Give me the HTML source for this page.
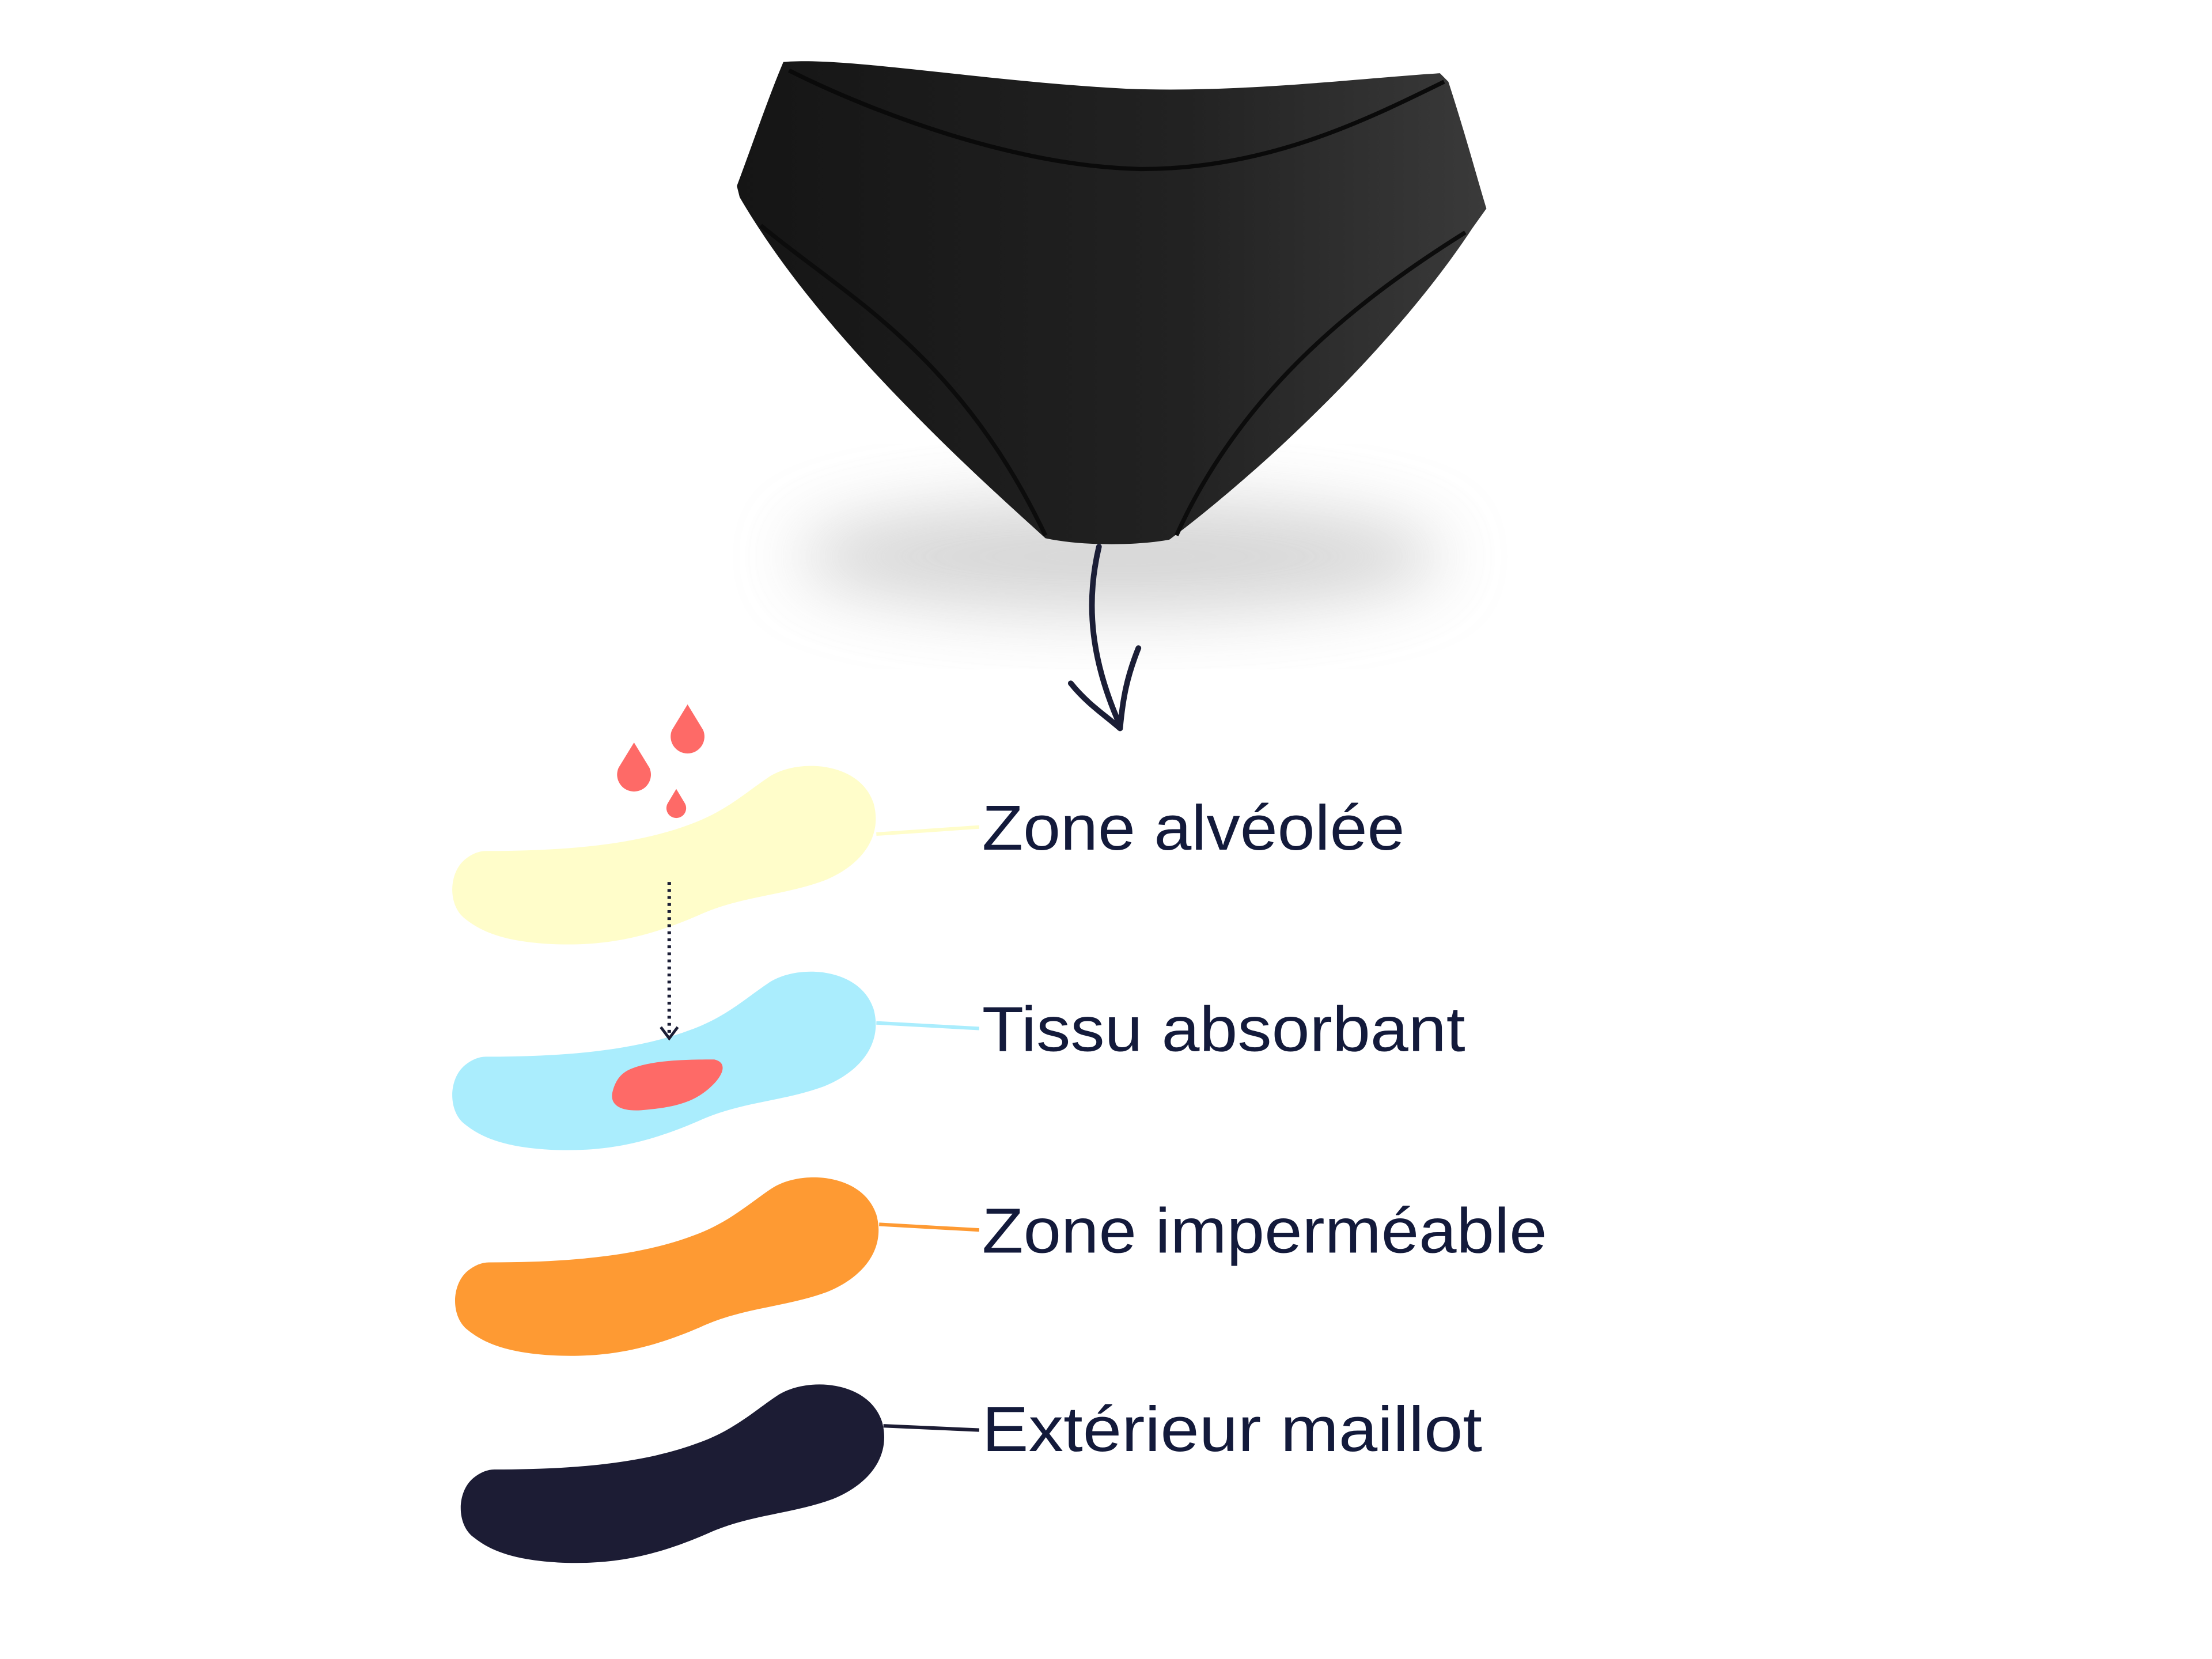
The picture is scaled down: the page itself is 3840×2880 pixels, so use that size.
<!DOCTYPE html>
<html><head><meta charset="utf-8"><style>
html,body{margin:0;padding:0;background:#fff}
svg{display:block}
</style></head><body>
<svg width="3840" height="2880" viewBox="0 0 1570 1177.5" xmlns="http://www.w3.org/2000/svg">
<defs>
<filter id="bl" x="-50%" y="-50%" width="200%" height="200%"><feGaussianBlur stdDeviation="24"/></filter>
<linearGradient id="pg" x1="0" y1="0" x2="1" y2="0"><stop offset="0" stop-color="#151515"/><stop offset="0.6" stop-color="#222"/><stop offset="1" stop-color="#3a3a3a"/></linearGradient>
<path id="pad" d="M345,604 C400,604 450,600 490,585 C515,576 530,562 545,552 C565,538 610,540 620,570 C627,595 610,615 585,625 C555,636 525,636 495,650 C460,665 430,672 390,670 C355,668 340,660 330,652 C318,643 318,620 330,610 C335,606 340,604 345,604 Z"/>
</defs>
<rect width="1570" height="1177.5" fill="#fff"/>
<ellipse cx="795" cy="395" rx="230" ry="40" fill="#c4c4c4" filter="url(#bl)" opacity="0.7"/>
<path d="M556,44 C600,40 700,58 800,63 C880,66 960,56 1022,52 L1028,58 C1040,95 1048,125 1055,148 L1045,162 C1010,215 960,270 900,325 C870,352 845,372 830,383 C810,387 770,388 742,382 C720,362 690,335 660,305 C610,255 560,200 525,140 L523,132 C535,100 545,70 556,44 Z" fill="url(#pg)"/>
<path d="M560,50 C620,80 720,118 810,120 C900,120 970,85 1025,58" fill="none" stroke="#0a0a0a" stroke-width="3"/>
<path d="M540,160 C600,210 680,250 742,380" fill="none" stroke="#0c0c0c" stroke-width="3"/>
<path d="M1040,165 C960,215 880,280 835,380" fill="none" stroke="#0c0c0c" stroke-width="3"/>
<path d="M780,388 C770,430 775,470 795,515" fill="none" stroke="#1b1e36" stroke-width="4" stroke-linecap="round"/>
<path d="M760,485 C772,500 785,508 795,517 C797,495 800,480 808,460" fill="none" stroke="#1b1e36" stroke-width="4" stroke-linecap="round" stroke-linejoin="round"/>
<use href="#pad" fill="#fffdca"/>
<use href="#pad" fill="#aaedfd" transform="translate(0,146)"/>
<use href="#pad" fill="#fe9a33" transform="translate(2,292)"/>
<use href="#pad" fill="#1c1c34" transform="translate(6,439)"/>
<path d="M445,760 C460,752 490,752 507,752 C516,754 514,762 506,770 C494,782 480,786 455,788 C440,789 432,784 435,774 C437,767 440,763 445,760 Z" fill="#fe6a67"/>
<path d="M488,500 L499,518 A12,12 0 1 1 477,518 Z" fill="#fe6a67"/>
<path d="M450,527 L461,545 A12,12 0 1 1 439,545 Z" fill="#fe6a67"/>
<path d="M480,560 L486,570 A7,7 0 1 1 474,570 Z" fill="#fe6a67"/>
<line x1="475" y1="626" x2="475" y2="735" stroke="#1b1e36" stroke-width="2.5" stroke-dasharray="2,3"/>
<path d="M469,729 L475,737 L481,729" fill="none" stroke="#1b1e36" stroke-width="2"/>
<line x1="622" y1="592" x2="695" y2="587" stroke="#fffdca" stroke-width="2.5"/>
<line x1="622" y1="726" x2="695" y2="730" stroke="#aaedfd" stroke-width="2.5"/>
<line x1="624" y1="869" x2="695" y2="873" stroke="#fe9a33" stroke-width="2.5"/>
<line x1="627" y1="1012" x2="695" y2="1015" stroke="#1c1c34" stroke-width="2.5"/>
<g font-family="Liberation Sans, sans-serif" font-size="45" fill="#131a3b">
<text x="697" y="603" textLength="300" lengthAdjust="spacingAndGlyphs">Zone alvéolée</text>
<text x="697" y="746" textLength="343" lengthAdjust="spacingAndGlyphs">Tissu absorbant</text>
<text x="697" y="889" textLength="401" lengthAdjust="spacingAndGlyphs">Zone imperméable</text>
<text x="697" y="1030" textLength="355" lengthAdjust="spacingAndGlyphs">Extérieur maillot</text>
</g>
</svg>
</body></html>
